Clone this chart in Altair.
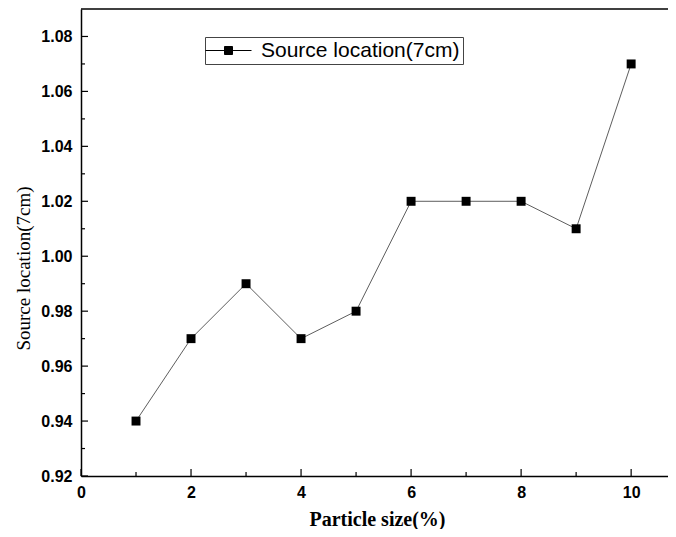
import altair as alt
import pandas as pd

particle = [1, 2, 3, 4, 5, 6, 7, 8, 9, 10]
location = [0.94, 0.97, 0.99, 0.97, 0.98, 1.02, 1.02, 1.02, 1.01, 1.07]
series_name = "Source location(7cm)"
x_major = [0, 2, 4, 6, 8, 10]
x_minor = [1, 3, 5, 7, 9]
y_major = [0.92, 0.94, 0.96, 0.98, 1.00, 1.02, 1.04, 1.06, 1.08]
y_minor = [0.93, 0.95, 0.97, 0.99, 1.01, 1.03, 1.05, 1.07]

W, H = 587, 467

df = pd.DataFrame({"x": particle, "y": location, "s": [series_name] * len(particle)})
xs = alt.Scale(domain=[0, 10.67], nice=False, zero=False)
ys = alt.Scale(domain=[0.92, 1.09], nice=False, zero=False)

x_axis = alt.Axis(values=x_major, format="d", ticks=False, grid=False, labelPadding=8,
                  domainColor="black", domainWidth=1.5, labelFont="Liberation Sans",
                  labelFontSize=16, labelFontWeight="bold", labelColor="black",
                  labelFlush=False, labelOverlap=False,
                  title="Particle size(%)", titleFont="Liberation Serif", titleFontSize=20,
                  titleFontWeight="bold", titleColor="black", titleX=296, titleY=43,
                  titleBaseline="middle", titleAlign="center")
y_axis = alt.Axis(values=y_major, format=".2f", ticks=False, grid=False, labelPadding=9,
                  domainColor="black", domainWidth=1.5, labelFont="Liberation Sans",
                  labelFontSize=16, labelFontWeight="bold", labelColor="black",
                  labelFlush=False, labelOverlap=False,
                  title="Source location(7cm)", titleFont="Liberation Serif", titleFontSize=19,
                  titleFontWeight="normal", titleColor="black", titleX=-58, titleY=259,
                  titleAngle=270, titleBaseline="middle", titleAlign="center")

def X(field):
    return alt.X(field, type="quantitative", scale=xs, axis=x_axis)

def Y(field):
    return alt.Y(field, type="quantitative", scale=ys, axis=y_axis)

base = alt.Chart(df)
line = base.mark_line(color="#333333", strokeWidth=0.8).encode(x=X("x"), y=Y("y"))
legend_path = "M-2.3,0H2.3M-0.4,-0.4H0.4V0.4H-0.4Z"
points = base.mark_point(shape="square", filled=True, size=80, opacity=1).encode(
    x=X("x"), y=Y("y"),
    color=alt.Color("s:N", scale=alt.Scale(range=["black"]),
                    legend=alt.Legend(title=None, orient="none", legendX=124, legendY=28,
                                      strokeColor="#444444", fillColor="white", padding=3,
                                      symbolType=legend_path, symbolSize=400,
                                      symbolOffset=10, symbolStrokeColor="black",
                                      symbolStrokeWidth=1, symbolFillColor="black",
                                      labelFont="Liberation Sans", labelFontSize=21,
                                      labelColor="black", labelOffset=22, labelLimit=400)),
)

ymaj = alt.Chart(pd.DataFrame({"y": y_major})).mark_rule(color="black", strokeWidth=1.2).encode(
    y=Y("y"), x=alt.value(0), x2=alt.value(7))
ymin = alt.Chart(pd.DataFrame({"y": y_minor})).mark_rule(color="black", strokeWidth=1.2).encode(
    y=Y("y"), x=alt.value(0), x2=alt.value(4))
xmaj = alt.Chart(pd.DataFrame({"x": x_major})).mark_rule(color="black", strokeWidth=1.2).encode(
    x=X("x"), y=alt.value(H), y2=alt.value(H - 7))
xmin = alt.Chart(pd.DataFrame({"x": x_minor})).mark_rule(color="black", strokeWidth=1.2).encode(
    x=X("x"), y=alt.value(H), y2=alt.value(H - 4))
top = alt.Chart(pd.DataFrame({"a": [0]})).mark_rule(color="black", strokeWidth=1.5).encode(
    x=alt.value(0), x2=alt.value(W), y=alt.value(0))

chart = alt.layer(line, points, ymaj, ymin, xmaj, xmin, top).properties(
    width=W, height=H, autosize="none",
    padding={"left": 73, "top": 1, "right": 0, "bottom": 53},
).configure_view(stroke=None)

chart.save("out.html", embed_options={"renderer": "svg", "actions": False})
